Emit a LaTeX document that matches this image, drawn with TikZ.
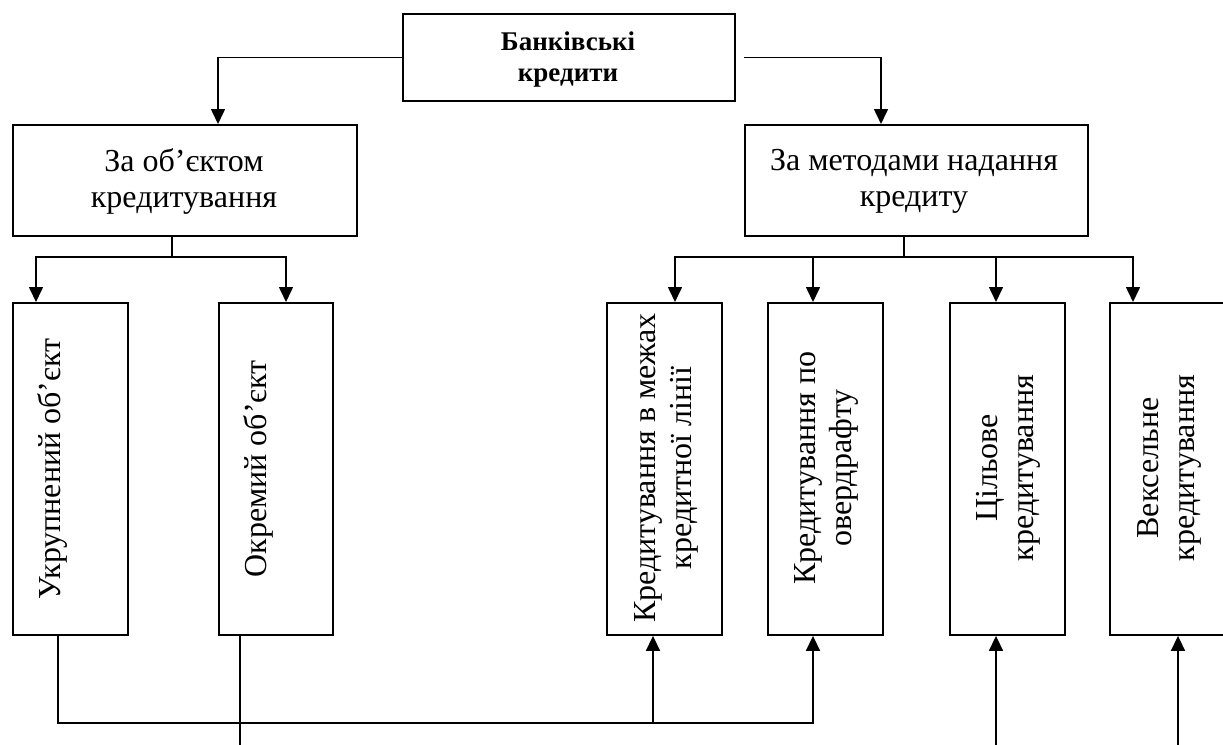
\documentclass[tikz,border=0pt]{standalone}
\usepackage{fontspec}
\setmainfont{Liberation Serif}
\usetikzlibrary{arrows.meta}

\tikzset{
  box/.style={draw, line width=1.9pt, inner sep=0pt, anchor=north west},
  conn/.style={line width=1.6pt},
  arr/.style={conn, -{Triangle[width=14pt,length=15pt]}},
  body/.style={font=\fontsize{32}{36}\selectfont, align=center, inner sep=0pt},
  vtext/.style={body, rotate=90},
}

\begin{document}
\begin{tikzpicture}[x=1pt,y=-1pt]
  \useasboundingbox (0,0) rectangle (1223,744);

  % top box
  \node[box, minimum width=332pt, minimum height=87pt] (top) at (402,13) {};
  \node[font=\bfseries\fontsize{27}{31}\selectfont, align=center, inner sep=0pt]
    (toptxt) at (568,60) {Банківські\\кредити};

  % second level
  \node[box, minimum width=344pt, minimum height=111pt] (lmid) at (12,124) {};
  \node[body] (lmidtxt) at (184,181) {За об’єктом\\кредитування};
  \node[box, minimum width=343pt, minimum height=111pt] (rmid) at (744,124) {};
  \node[body] (rmidtxt) at (914,181) {За методами надання\\кредиту};

  % third level
  \node[box, minimum width=115pt, minimum height=332pt] (b1) at (12,302) {};
  \node[box, minimum width=114pt, minimum height=332pt] (b2) at (218,302) {};
  \node[box, minimum width=115pt, minimum height=332pt] (b3) at (606,302) {};
  \node[box, minimum width=115pt, minimum height=332pt] (b4) at (767,302) {};
  \node[box, minimum width=115pt, minimum height=332pt] (b5) at (949,302) {};
  \node[box, minimum width=115pt, minimum height=332pt] (b6) at (1109,302) {};

  \node[vtext] (t1) at (52,469) {Укрупнений об’єкт};
  \node[vtext] (t2) at (258,469) {Окремий об’єкт};
  \node[vtext] (t3) at (666,468) {Кредитування в межах\\кредитної лінії};
  \node[vtext] (t4) at (826,468) {Кредитування по\\овердрафту};
  \node[vtext] (t5) at (1008,468) {Цільове\\кредитування};
  \node[vtext] (t6) at (1169,468) {Вексельне\\кредитування};

  % top box to the two groups
  \draw[arr] (top.west) -| ([xshift=206pt]lmid.north west);
  \draw[arr] ([xshift=8pt]top.east) -| ([xshift=137pt]rmid.north west);

  % left group
  \coordinate (jl) at (172,257);
  \draw[conn] ([xshift=160pt]lmid.south west) -- (jl);
  \draw[arr] (jl) -| ([xshift=24pt]b1.north west);
  \draw[arr] (jl) -| ([xshift=68pt]b2.north west);

  % right group
  \coordinate (jr) at (904,257);
  \draw[conn] ([xshift=160pt]rmid.south west) -- (jr);
  \draw[arr] (jr) -| ([xshift=69pt]b3.north west);
  \draw[arr] (jr) -| ([xshift=46pt]b4.north west);
  \draw[arr] (jr) -| ([xshift=47pt]b5.north west);
  \draw[arr] (jr) -| ([xshift=24pt]b6.north west);

  % links along the bottom
  \coordinate (bus) at (653,723);
  \draw[arr] ([xshift=46pt]b1.south west) |- ([xshift=46pt]b4.south west |- bus) -- ([xshift=46pt]b4.south west);
  \draw[arr] (bus) -- ([xshift=47pt]b3.south west);
  \coordinate (e2) at (240,750);
  \coordinate (e5) at (996,750);
  \coordinate (e6) at (1178,750);
  \draw[conn] ([xshift=22pt]b2.south west) -- (e2);
  \draw[arr] (e5) -- ([xshift=47pt]b5.south west);
  \draw[arr] (e6) -- ([xshift=69pt]b6.south west);
\end{tikzpicture}
\end{document}
